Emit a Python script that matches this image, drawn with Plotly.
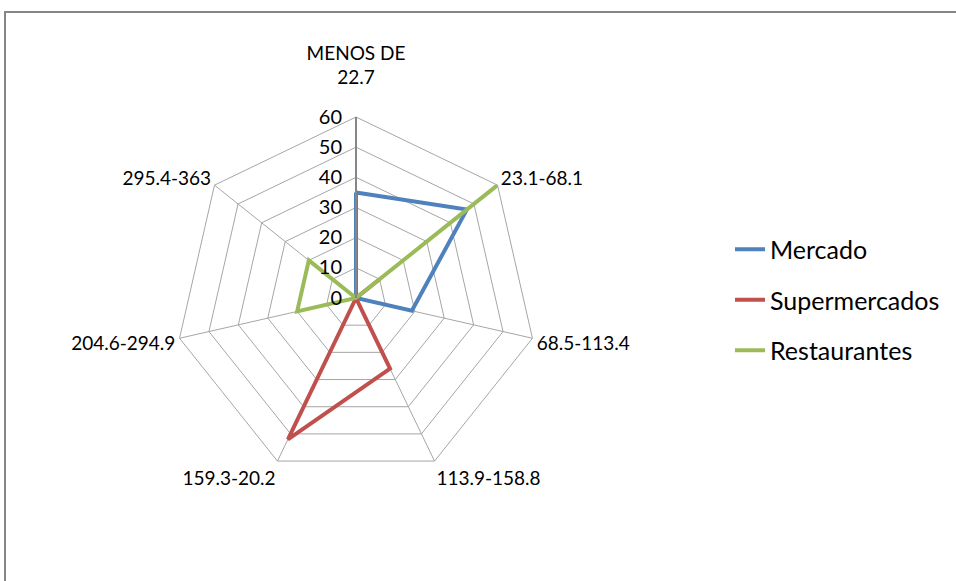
import plotly.graph_objects as go

categories = ["MENOS DE<br>22.7<br><span style='font-size:6px'> </span>",
              "23.1-68.1", "68.5-113.4", "113.9-158.8",
              "159.3-20.2", "204.6-294.9", "295.4-363"]
mercado = [35, 47, 19, 0, 0, 0, 0]
supermercados = [0, 10, 0, 26, 52, 0, 0]
restaurantes = [0, 60, 0, 0, 0, 20, 20]
radial_ticks = [0, 10, 20, 30, 40, 50, 60]

series = [
    ("Mercado", mercado, "#4F81BD"),
    ("Supermercados", supermercados, "#C0504D"),
    ("Restaurantes", restaurantes, "#9BBB59"),
]

W, H = 956, 581
FONT = "Lato"

fig = go.Figure()
for name, vals, color in series:
    fig.add_trace(go.Scatterpolar(
        r=vals + vals[:1],
        theta=categories + categories[:1],
        mode="lines",
        name=name,
        legendgroup=name,
        line=dict(color=color, width=4),
    ))

# polar area: centre (356, 298), radius 181 px
cx, cy, rad = 356, 298, 181
fig.update_layout(
    width=W, height=H,
    margin=dict(l=0, r=0, t=0, b=0),
    paper_bgcolor="white",
    plot_bgcolor="white",
    font=dict(family=FONT, size=19, color="#000000"),
    polar=dict(
        domain=dict(x=[(cx - rad) / W, (cx + rad) / W],
                    y=[1 - (cy + rad) / H, 1 - (cy - rad) / H]),
        gridshape="linear",
        bgcolor="white",
        angularaxis=dict(
            rotation=90, direction="clockwise",
            showline=True, linecolor="#A6A6A6", linewidth=1,
            gridcolor="#A6A6A6", gridwidth=1,
            ticks="", tickfont=dict(family=FONT, size=19, color="#000000"),
        ),
        radialaxis=dict(
            range=[0, 60], tickvals=radial_ticks,
            angle=90, side="counterclockwise",
            showline=True, linecolor="#868686", linewidth=2,
            gridcolor="#A6A6A6", gridwidth=1,
            ticks="outside", ticklen=6, tickcolor="rgba(0,0,0,0)",
            tickangle=90,
            tickfont=dict(family=FONT, size=20, color="#000000"),
        ),
    ),
    legend=dict(
        x=730 / W, y=1 - 300 / H, xanchor="left", yanchor="middle",
        font=dict(family=FONT, size=25, color="#000000"),
        tracegroupgap=15, bgcolor="rgba(0,0,0,0)",
    ),
    shapes=[dict(
        type="rect", xref="paper", yref="paper",
        x0=5 / W, x1=1.05, y0=-0.05, y1=1 - 12 / H,
        line=dict(color="#868686", width=2), fillcolor="rgba(0,0,0,0)",
        layer="below",
    )],
)

fig.write_html("out.html")
